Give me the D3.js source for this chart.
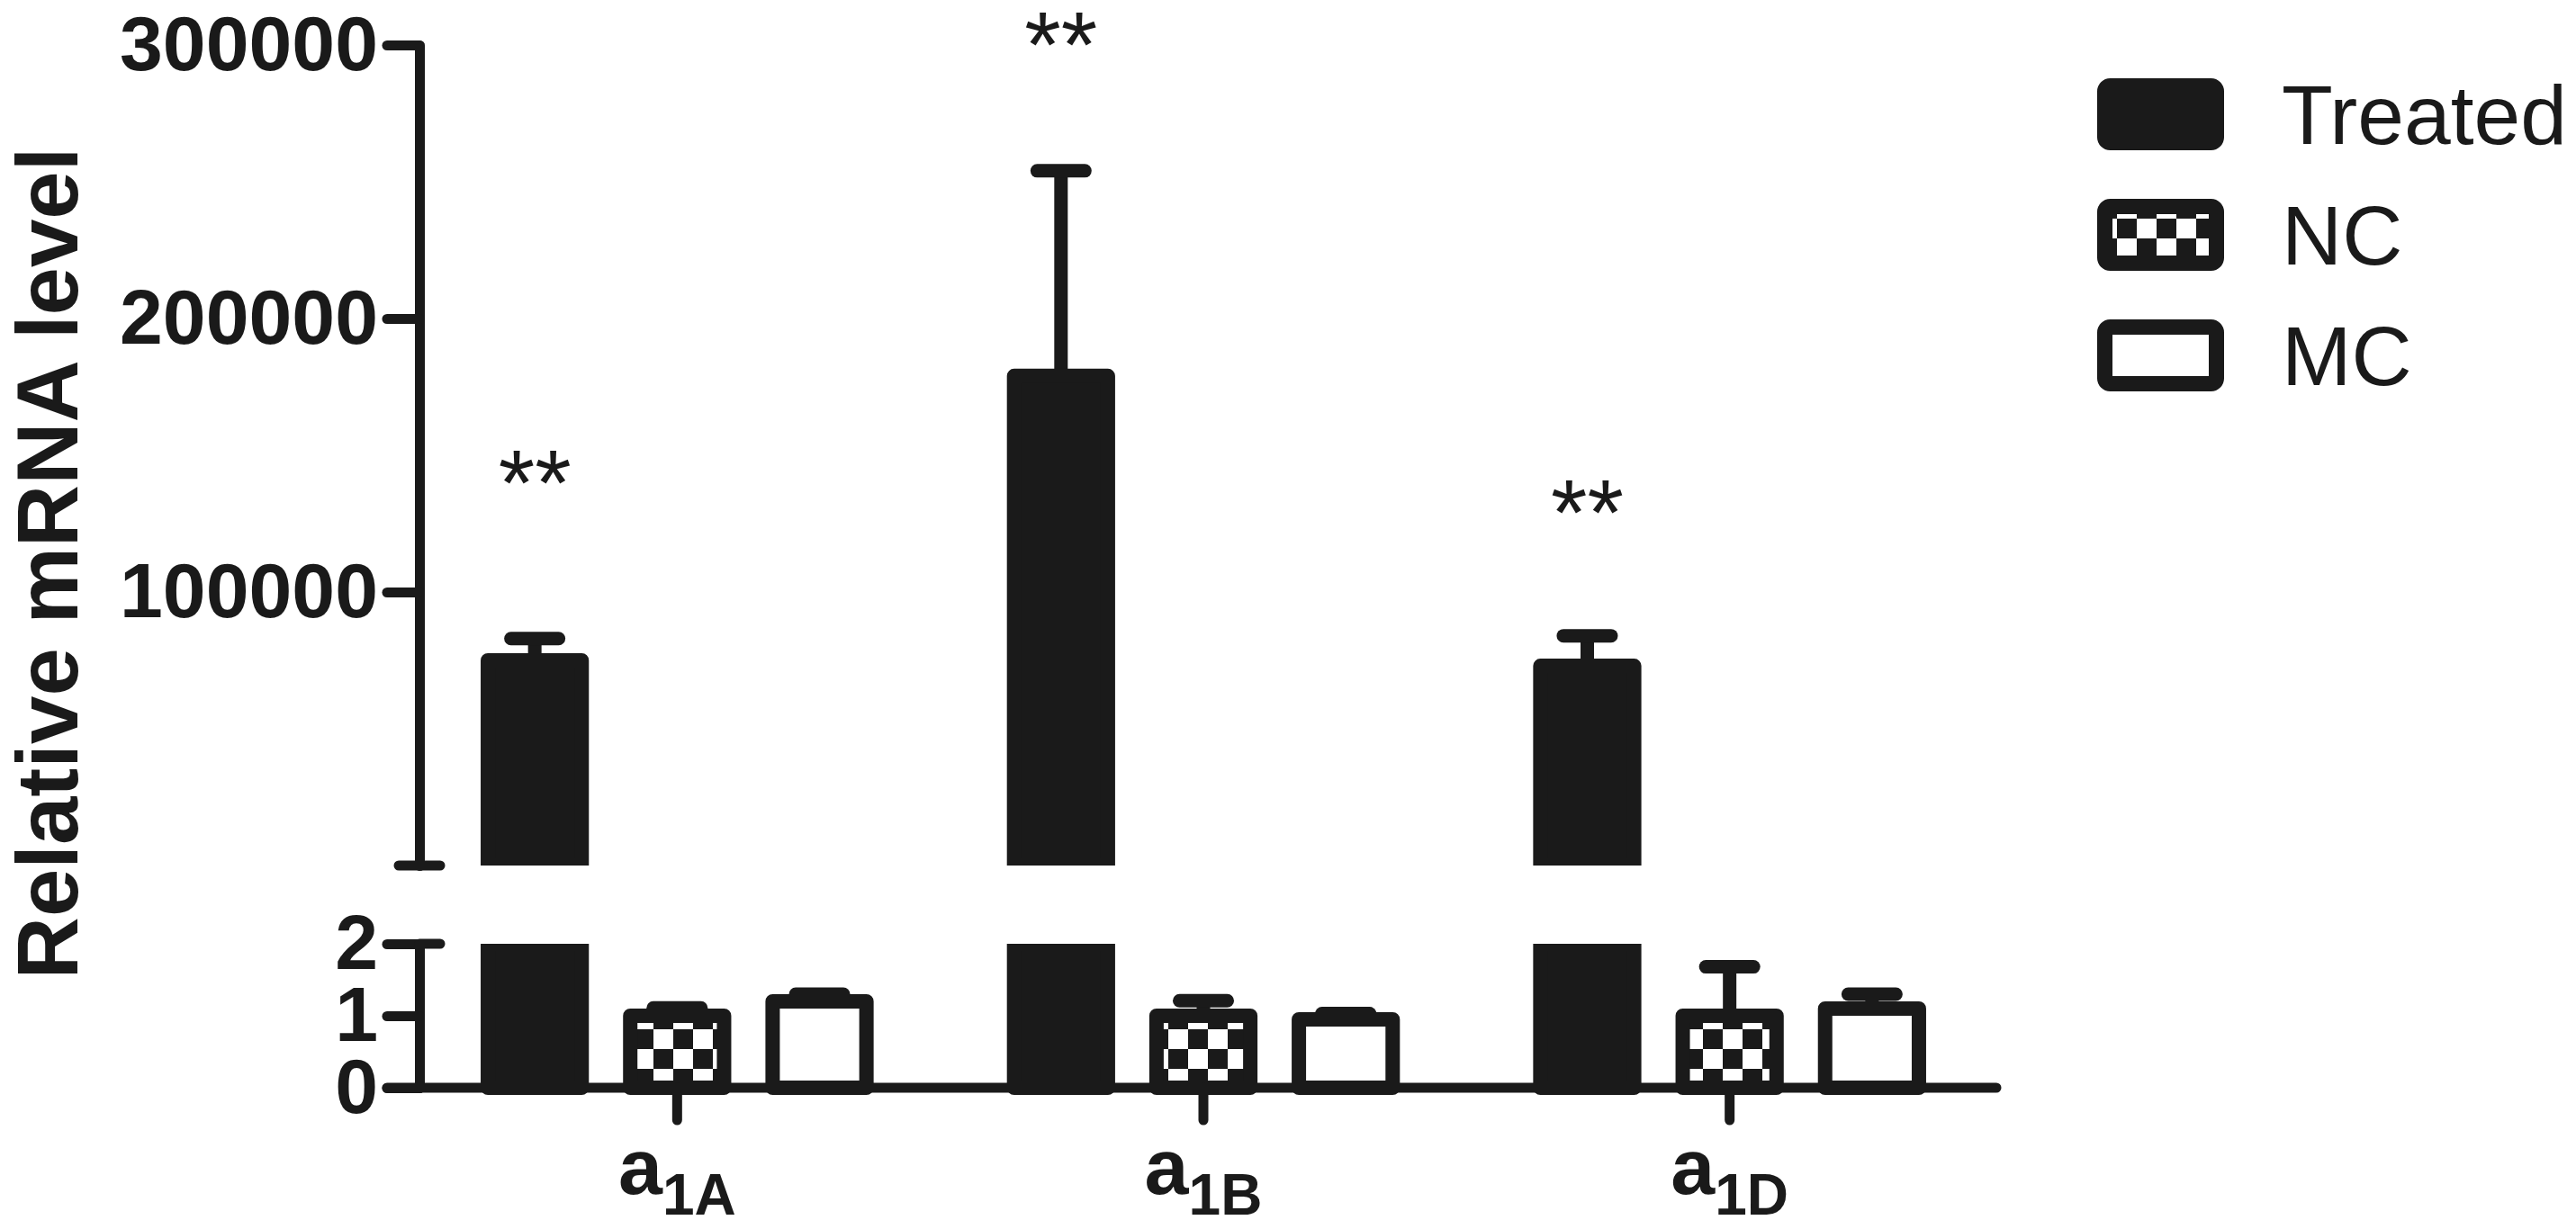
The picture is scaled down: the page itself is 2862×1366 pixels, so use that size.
<!DOCTYPE html>
<html>
<head>
<meta charset="utf-8">
<script src="https://cdn.jsdelivr.net/npm/d3@7"></script>
<style>
  body { margin: 0; background: #fff; }
  text { font-family: "Liberation Sans", Arial, sans-serif; fill: #1a1a1a; }
</style>
</head>
<body>
<script>
// categories and groups
const categories = ['a1A', 'a1B', 'a1D'];
const catSub = ['1A', '1B', '1D'];
const series = ['Treated', 'NC', 'MC'];

// mean and SEM per category
const treatedMean = [75000, 179000, 73000];
const treatedErr = [8000, 75000, 11000];
const ncMean = [1.0, 1.0, 1.0];
const ncErr = [0.11, 0.21, 0.68];
const mcMean = [1.2, 0.95, 1.1];
const mcErr = [0.1, 0.08, 0.2];

// significance marks, placed in data units of the upper segment
const starLabel = ['**', '**', '**'];
const starLevel = [128000, 288000, 117000];

const upperTicks = [100000, 200000, 300000];
const lowerTicks = [0, 1, 2];

const W = 2862, H = 1366;
const ink = '#1a1a1a';
const axisX = 466;

const svg = d3.select('body').append('svg')
    .attr('width', W)
    .attr('height', H);

const defs = svg.append('defs');
const pat = defs.append('pattern')
    .attr('id', 'checker')
    .attr('patternUnits', 'userSpaceOnUse')
    .attr('width', 44).attr('height', 44);
pat.append('rect').attr('width', 44).attr('height', 44).attr('fill', '#fff');
pat.append('rect').attr('width', 22).attr('height', 22).attr('fill', ink);
pat.append('rect').attr('x', 22).attr('y', 22).attr('width', 22).attr('height', 22).attr('fill', ink);

// scales: broken y axis with two segments
const x0 = d3.scaleBand().domain(categories).range([460, 2214]);
const x1 = d3.scaleBand().domain(series).range([0, x0.bandwidth()])
    .paddingInner(0.24).paddingOuter(0.468);
const yUp = d3.scaleLinear().domain([0, 300000]).range([962, 50]);
const yLow = d3.scaleLinear().domain([0, 2]).range([1209, 1049]).clamp(true);

defs.append('clipPath').attr('id', 'clipUp')
    .append('rect').attr('x', 0).attr('y', 0).attr('width', W).attr('height', yUp(0));
defs.append('clipPath').attr('id', 'clipLow')
    .append('rect').attr('x', 0).attr('y', yLow(2)).attr('width', W).attr('height', H - yLow(2));

const barStroke = 16;
const errStroke = 15;
const capW = 68;

const rows = categories.map((c, i) => ({
    cat: c,
    vals: [
        { s: 'Treated', v: treatedMean[i], e: treatedErr[i] },
        { s: 'NC', v: ncMean[i], e: ncErr[i] },
        { s: 'MC', v: mcMean[i], e: mcErr[i] }
    ]
}));

const fillOf = { Treated: ink, NC: 'url(#checker)', MC: '#fff' };

function drawError(g, cx, yBase, yTop) {
    g.append('line')
        .attr('x1', cx).attr('x2', cx)
        .attr('y1', yBase).attr('y2', yTop)
        .attr('stroke', ink).attr('stroke-width', errStroke);
    g.append('line')
        .attr('x1', cx - capW / 2 + errStroke / 2).attr('x2', cx + capW / 2 - errStroke / 2)
        .attr('y1', yTop).attr('y2', yTop)
        .attr('stroke', ink).attr('stroke-width', errStroke)
        .attr('stroke-linecap', 'round');
}

function drawBar(g, d, cat, y) {
    g.append('rect')
        .attr('x', x0(cat) + x1(d.s) + barStroke / 2)
        .attr('width', x1.bandwidth() - barStroke)
        .attr('y', y(d.v))
        .attr('height', y(0) - y(d.v))
        .attr('fill', fillOf[d.s])
        .attr('stroke', ink)
        .attr('stroke-width', barStroke)
        .attr('stroke-linejoin', 'round');
}

// upper segment: only the treated bars reach it
const gUp = svg.append('g').attr('clip-path', 'url(#clipUp)');
rows.forEach(r => {
    const d = r.vals[0];
    const cx = x0(r.cat) + x1(d.s) + x1.bandwidth() / 2;
    drawError(gUp, cx, yUp(d.v), yUp(d.v + d.e));
    drawBar(gUp, d, r.cat, yUp);
});

// lower segment
const gLow = svg.append('g').attr('clip-path', 'url(#clipLow)');
rows.forEach(r => {
    r.vals.forEach(d => {
        const cx = x0(r.cat) + x1(d.s) + x1.bandwidth() / 2;
        if (d.v + d.e < 2) drawError(gLow, cx, yLow(d.v), yLow(d.v + d.e));
    });
    r.vals.forEach(d => drawBar(gLow, d, r.cat, yLow));
});

// stars
svg.append('g').selectAll('text')
    .data(categories)
    .enter().append('text')
    .attr('x', c => x0(c) + x1('Treated') + x1.bandwidth() / 2)
    .attr('y', (c, i) => yUp(starLevel[i]))
    .attr('text-anchor', 'middle')
    .attr('font-size', 104)
    .text((c, i) => starLabel[i]);

// y axes
function styleAxis(g, size) {
    g.selectAll('path, line')
        .attr('stroke', ink)
        .attr('stroke-width', 11)
        .attr('stroke-linecap', 'round')
        .attr('stroke-linejoin', 'round');
    g.selectAll('text')
        .attr('font-size', size)
        .attr('font-weight', 'bold')
        .attr('fill', ink)
        .attr('font-family', '"Liberation Sans", Arial, sans-serif');
}

const axUp = svg.append('g')
    .attr('transform', 'translate(' + axisX + ',0)')
    .call(d3.axisLeft(yUp).tickValues(upperTicks).tickSize(36).tickSizeOuter(0).tickPadding(10)
        .tickFormat(d3.format('d')));
axUp.append('line')
    .attr('x1', -23).attr('x2', 23)
    .attr('y1', yUp(0)).attr('y2', yUp(0));
styleAxis(axUp, 86);

const axLow = svg.append('g')
    .attr('transform', 'translate(' + axisX + ',0)')
    .call(d3.axisLeft(yLow).tickValues(lowerTicks).tickSize(36).tickSizeOuter(0).tickPadding(10)
        .tickFormat(d3.format('d')));
axLow.append('line')
    .attr('x1', 0).attr('x2', 23)
    .attr('y1', yLow(2)).attr('y2', yLow(2));
styleAxis(axLow, 86);

// x axis
const axX = svg.append('g')
    .attr('transform', 'translate(0,' + yLow(0) + ')')
    .call(d3.axisBottom(x0).tickSize(36).tickSizeOuter(0).tickFormat(''));
axX.select('.domain').remove();
axX.append('line')
    .attr('x1', axisX - 36).attr('x2', x0.range()[1] + 4)
    .attr('y1', 0).attr('y2', 0);
styleAxis(axX, 86);

const catText = svg.append('g').selectAll('text')
    .data(categories)
    .enter().append('text')
    .attr('x', c => x0(c) + x0.bandwidth() / 2)
    .attr('y', 1327)
    .attr('text-anchor', 'middle')
    .attr('font-weight', 'bold');
catText.append('tspan').attr('font-size', 88).text('a');
catText.append('tspan').attr('font-size', 64).attr('dy', 23).text((c, i) => catSub[i]);

// y title
svg.append('text')
    .attr('transform', 'translate(86,626) rotate(-90)')
    .attr('text-anchor', 'middle')
    .attr('font-size', 96)
    .attr('font-weight', 'bold')
    .text('Relative mRNA level');

// legend
const legend = svg.append('g').attr('transform', 'translate(2330,87)');
const leg = legend.selectAll('g')
    .data(series)
    .enter().append('g')
    .attr('transform', (d, i) => 'translate(0,' + i * 134 + ')');
leg.append('rect')
    .attr('x', 8.5).attr('y', 8.5)
    .attr('width', 124).attr('height', 63)
    .attr('rx', 6)
    .attr('fill', d => fillOf[d])
    .attr('stroke', ink)
    .attr('stroke-width', 17);
leg.append('text')
    .attr('x', 205)
    .attr('y', 73)
    .attr('font-size', 93)
    .text(d => d);
</script>
</body>
</html>
